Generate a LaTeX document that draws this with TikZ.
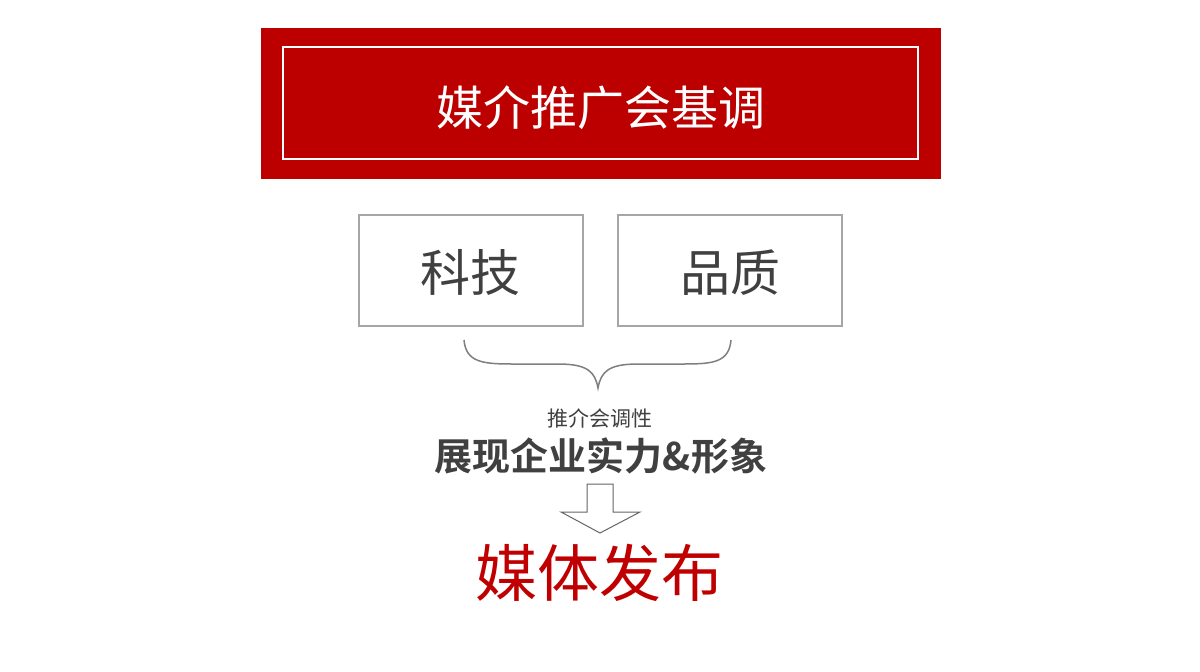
\documentclass[tikz,border=0pt]{standalone}
\usepackage{fontspec}
\newfontfamily\cjk{Noto Sans CJK SC}
\newfontfamily\cjkb{Noto Sans CJK SC Bold}
\definecolor{mainred}{HTML}{BC0000}
\definecolor{txtred}{HTML}{C00000}
\definecolor{txtgray}{HTML}{404040}
\definecolor{boxgray}{HTML}{A6A6A6}
\definecolor{bracegray}{HTML}{7F7F7F}
\tikzset{
  catbox/.style={draw=boxgray, line width=1.2pt, fill=white, minimum width=224pt, minimum height=111pt, inner sep=0pt, text=txtgray, font=\cjk\fontsize{50}{50}\selectfont},
}
\begin{document}
\begin{tikzpicture}[x=1pt,y=-1pt]
\useasboundingbox (0,0) rectangle (1200,672);
\fill[white] (0,0) rectangle (1200,672);
% title
\node[fill=mainred, minimum width=680pt, minimum height=151pt, inner sep=0pt] (title) at (601,103.5) {};
\node[draw=white, line width=1.6pt, minimum width=635pt, minimum height=112pt, inner sep=0pt] (titlein) at (600.5,103) {};
\node[text=white, font=\cjk\fontsize{47}{47}\selectfont, inner sep=0pt] (titletext) at (600.5,107.5) {媒介推广会基调};
% category boxes
\node[catbox] (tech) at (471,270.5) {};
\node[catbox] (qual) at (730,270.5) {};
\node[text=txtgray, font=\cjk\fontsize{50}{50}\selectfont, inner sep=0pt] (techtext) at (470,272.5) {科技};
\node[text=txtgray, font=\cjk\fontsize{50}{50}\selectfont, inner sep=0pt] (qualtext) at (730,272.5) {品质};
% brace
\coordinate (bl) at (464,340);
\coordinate (br) at (731,340);
\coordinate (bt) at (598,388);
\draw[bracegray, line width=1.5pt]
  (bl) .. controls (466,362) and (482,364) .. (512,364)
  -- (558,364) .. controls (588,364) and (595,372) .. (bt)
  .. controls (601,372) and (608,364) .. (638,364)
  -- (684,364) .. controls (714,364) and (729,362) .. (br);
% texts
\node[text=txtgray, font=\cjk\fontsize{21}{21}\selectfont, inner sep=0pt] (sub) at (600,418) {推介会调性};
\node[text=txtgray, font=\cjkb\fontsize{38}{38}\selectfont, inner sep=0pt] (slogan) at (601,456) {展现企业实力\&形象};
% hollow arrow
\coordinate (atip) at (600,533);
\draw[bracegray!80!black, line width=1pt, fill=white, line join=miter]
  (587,484) -- (613,484) -- (613,512) -- (640,512) -- (atip) -- (561,512) -- (587,512) -- cycle;
\node[text=txtred, font=\cjk\fontsize{62}{62}\selectfont, inner sep=0pt] (pub) at (599,573) {媒体发布};
\end{tikzpicture}
\end{document}
